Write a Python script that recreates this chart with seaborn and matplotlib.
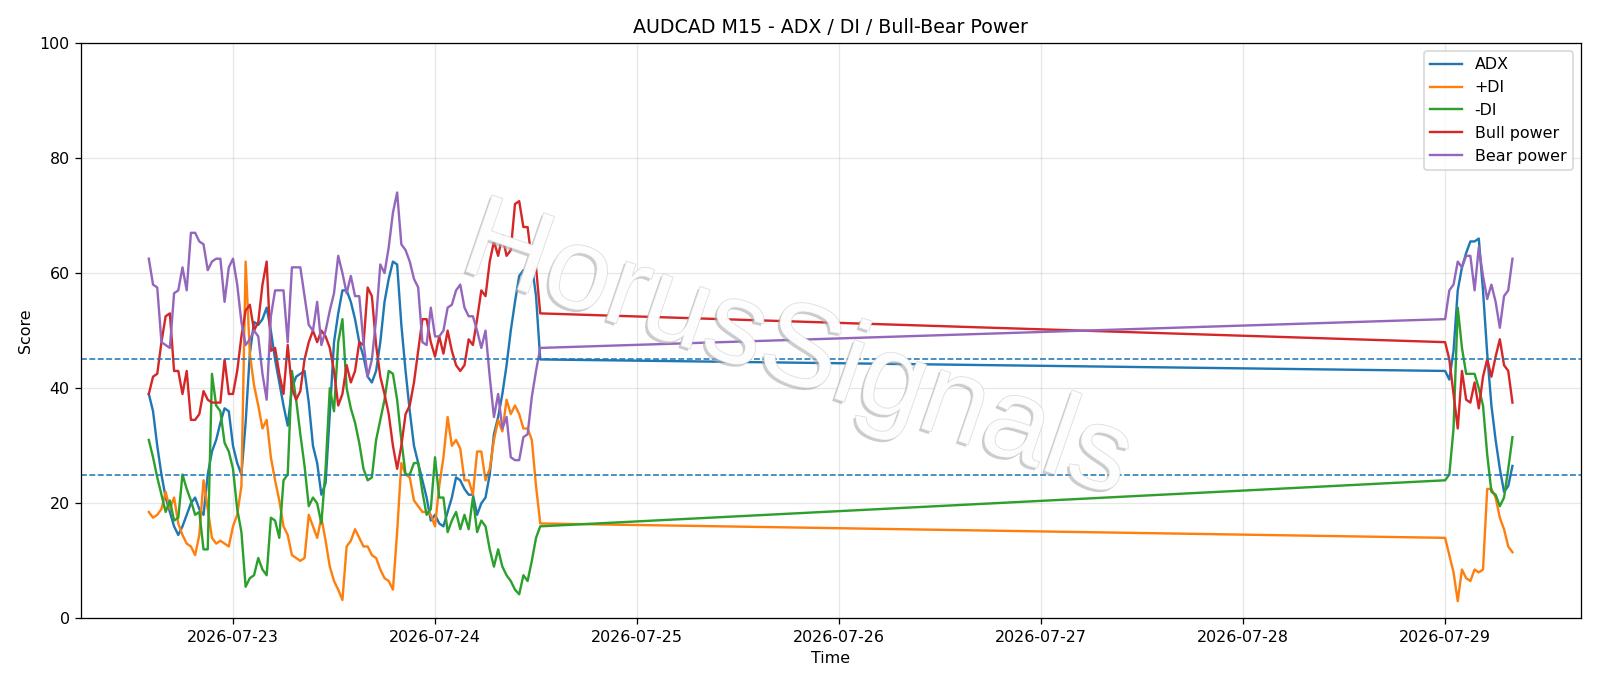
import numpy as np
import pandas as pd
import matplotlib
matplotlib.use("Agg")
import matplotlib.pyplot as plt
import matplotlib.dates as mdates
import matplotlib.patheffects as pe
import seaborn as sns

# --- time stamps (M15 bars sampled every 30 min) ---
seg1_times = pd.date_range("2026-07-22 14:00", "2026-07-24 12:30", freq="30min")
seg2_times = pd.date_range("2026-07-29 00:00", "2026-07-29 08:00", freq="30min")

adx_1 = [39, 36, 30, 25, 21, 18.5, 16, 14.5, 16, 18, 20, 21, 19, 18, 25, 29, 31, 34,
         36.5, 36, 30, 27, 25, 34, 46, 51.5, 51, 52, 54, 50, 45, 41, 37, 33.5, 40, 42,
         42.5, 43, 37.5, 30, 27, 21.5, 23.5, 35.5, 48, 53, 57, 57, 55, 52, 48, 45.5, 42, 41,
         43, 48, 55, 59, 62, 61.5, 51, 43, 36, 30, 27, 24, 21, 17, 18, 16.5, 16, 18.5,
         21, 24.5, 24, 22.5, 21.5, 21.5, 18, 20, 21, 25, 32, 35, 39, 44, 50, 55, 59.5, 60.5,
         60.5, 61.5, 56, 45]
adx_2 = [43, 41.5, 46.5, 57, 61, 63.5, 65.5, 65.5, 66, 57, 46, 37, 31, 26, 22, 23, 26.5]

pdi_1 = [18.5, 17.5, 18, 19, 22, 19, 21, 16.5, 14.5, 13, 12.5, 11, 14.5, 24, 19, 14, 13, 13.5,
         13, 12.5, 16, 18, 23, 62, 46, 40.5, 37, 33, 34.5, 28, 24, 20.5, 16, 14.5, 11, 10.5,
         10, 10.5, 18, 16, 14, 17.5, 13.5, 9, 6.5, 5, 3.2, 12.5, 13.5, 15.5, 14, 12.5, 12.5, 11,
         10.5, 8.5, 7, 6.5, 5, 15, 27, 25, 24.5, 20.5, 19.5, 18.5, 18.5, 18, 16, 23, 28, 35,
         30, 31, 29.5, 24, 24, 21.5, 29, 29, 24, 26, 31, 34.5, 32.5, 38, 35.5, 37, 35.5, 33,
         33, 31, 23, 16.5]
pdi_2 = [14, 11, 8, 3, 8.5, 7, 6.5, 8.5, 8, 8.5, 22.5, 22.5, 21, 17.5, 15.5, 12.5, 11.5]

mdi_1 = [31, 28, 24.5, 21.5, 18.5, 20.5, 17, 17.5, 25, 22.5, 20.5, 18, 18.5, 12, 12, 42.5, 37, 36,
         30.5, 29, 26, 19, 15, 5.5, 7, 7.5, 10.5, 8.5, 7.5, 17.5, 17, 14, 24, 25, 43, 38,
         32, 26.5, 19.5, 21, 20, 16.5, 26, 40, 36, 48, 52, 40, 36.5, 34, 30.5, 26, 24, 24.5,
         31, 34.5, 38, 43, 42.5, 38, 31, 25, 25, 27, 27, 22, 18, 19, 28, 21, 21, 15,
         17, 18.5, 15.5, 18, 15.5, 21, 15, 17, 16, 12, 9, 12, 9, 7.5, 6.5, 5, 4.2, 7.5,
         6.5, 10, 14, 16]
mdi_2 = [24, 25, 33, 54, 47, 42.5, 42.5, 42.5, 40, 37, 28.5, 22, 21.5, 19.5, 21, 26, 31.5]

bull_1 = [39, 42, 42.5, 48, 52.5, 53, 43, 43, 39, 43, 34.5, 34.5, 35.5, 39.5, 38, 37.5, 37.5, 37.5,
          45, 39, 39, 43, 49, 53.5, 54.5, 50, 51.5, 58, 62, 46.5, 47, 42.5, 39, 47.5, 40, 38,
          39.5, 45, 48, 50, 48, 50, 49, 47, 43, 37, 39, 44, 41, 43, 48, 47.5, 57.5, 56,
          47.5, 42, 39, 35.5, 30, 26, 30, 35.5, 37, 41, 46.5, 52, 52, 48, 45.5, 49, 46, 50,
          46.5, 44, 43, 44, 48.5, 47.5, 52, 57, 56, 62, 65.5, 63, 66.5, 63, 64, 72, 72.5, 68,
          68, 62, 61, 53]
bull_2 = [48, 45, 39, 33, 43, 38, 37.5, 41, 36.5, 42, 45, 42, 45.5, 48.5, 44, 43, 37.5]

bear_1 = [62.5, 58, 57.5, 48, 47.5, 47, 56.5, 57, 61, 57, 67, 67, 65.5, 65, 60.5, 62, 62.5, 62.5,
          55, 61, 62.5, 58, 51.5, 47.5, 48.5, 50, 49, 42.5, 38, 52.5, 57, 57, 57, 48, 61, 61,
          61, 56, 51, 50, 55, 47.5, 50, 53.5, 56.5, 63, 60, 56.5, 59.5, 56, 56, 48, 42, 45,
          52, 61.5, 60, 64.5, 70.5, 74, 65, 64, 62, 59, 57.5, 48, 47.5, 54, 49, 49, 50, 54,
          54.5, 57, 58, 54, 52.5, 52.5, 50, 47, 50, 42, 35, 39, 33, 35, 28, 27.5, 27.5, 31.5,
          32, 38.5, 43, 47]
bear_2 = [52, 57, 58, 62, 61, 63, 63, 57, 64.5, 59.5, 55.5, 58, 55, 50.5, 56, 57, 62.5]

series_names = ["ADX", "+DI", "-DI", "Bull power", "Bear power"]
series_colors = ["#1f77b4", "#ff7f0e", "#2ca02c", "#d62728", "#9467bd"]
series_values = [adx_1 + adx_2, pdi_1 + pdi_2, mdi_1 + mdi_2, bull_1 + bull_2, bear_1 + bear_2]
levels = [45, 25]

times = seg1_times.append(seg2_times)

DPI = 1600 / 14
fig = plt.figure(figsize=(14, 6.0025), dpi=DPI)
ax = fig.add_axes([0.0504, 0.0985, 0.9375, 0.839])

for name, col, vals in zip(series_names, series_colors, series_values):
    df = pd.DataFrame({"Time": times, "Score": vals})
    sns.lineplot(data=df, x="Time", y="Score", ax=ax, color=col, label=name,
                 linewidth=1.5, sort=False)

for lv in levels:
    ax.axhline(lv, color="#1f77b4", linestyle="--", linewidth=1.0)

ax.set_ylim(0, 100)
ax.margins(x=0.05)
ax.xaxis.set_major_locator(mdates.DayLocator())
ax.xaxis.set_major_formatter(mdates.DateFormatter("%Y-%m-%d"))
ax.grid(True, alpha=0.3)
ax.set_title("AUDCAD M15 - ADX / DI / Bull-Bear Power", fontsize=12)
ax.set_xlabel("Time")
ax.set_ylabel("Score")
ax.legend(loc="upper right")

ax.text(0.498, 0.485, "HorusSignals", transform=fig.transFigure, fontsize=74,
        family="Liberation Sans", rotation=-19, ha="center", va="center",
        color="white", alpha=0.7, zorder=10,
        path_effects=[pe.withSimplePatchShadow(offset=(-1.5, -1.5), shadow_rgbFace="#aaaaaa", alpha=0.6),
                      pe.withStroke(linewidth=0.8, foreground="#cccccc")])

fig.savefig("out.png", dpi=DPI)
